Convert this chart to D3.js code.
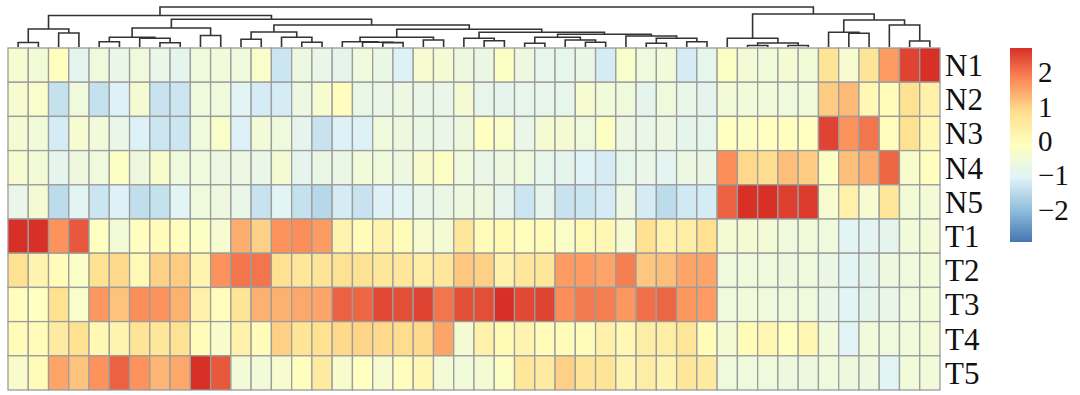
<html>
<head>
<meta charset="utf-8">
<title>Heatmap</title>
<style>
body { margin: 0; background: #fff; }
svg text { font-family: "Liberation Serif", "DejaVu Serif", serif; fill: #111; }
.cell { stroke: #9c9c9c; stroke-width: 1.3; }
.dendro path { fill: none; stroke: #333; stroke-width: 1.6; }
</style>
</head>
<body>
<svg id="plot" width="1080" height="395"></svg>
<script src="https://cdn.jsdelivr.net/npm/d3@7"></script>
<script>
const rowNames = ['N1', 'N2', 'N3', 'N4', 'N5', 'T1', 'T2', 'T3', 'T4', 'T5'];

// values per row, 46 columns, already in dendrogram order
const N1 = [-0.4,-0.5,-0.1,-0.9,-0.6,-0.8,-0.6,-0.8,-0.9,-0.6,-0.55,-0.6,-0.3,-1.3,-0.7,-0.8,
  -0.9,-0.6,-0.75,-1.1,-0.4,-0.45,-0.65,-0.75,-0.2,-0.65,-0.85,-0.85,-0.75,-1.2,
  -0.3,-0.6,-0.55,-1.2,-0.85,-0.2,-0.5,-0.55,-0.45,-0.5,0.7,-0.4,0.7,1.6,2.5,2.85];
const N2 = [-0.4,-0.3,-1.4,-0.6,-1.4,-1.1,-0.45,-1.35,-1.3,-0.6,-0.6,-1.0,-1.2,-1.2,-0.7,-0.4,
  -0.1,-0.75,-0.8,-0.7,-0.8,-0.8,-0.45,-0.85,-0.9,-0.85,-0.85,-0.85,-0.4,-0.55,
  -0.6,-0.9,-0.6,-0.8,-0.9,-0.5,-0.55,-0.55,-0.6,-0.55,1.05,1.25,0.1,0.0,0.8,0.3];
const N3 = [-0.45,-0.55,-1.2,-0.4,-0.55,-0.8,-1.1,-1.3,-1.3,-0.6,-0.3,-1.1,-0.5,-0.6,-0.9,-1.35,
  -1.1,-1.1,-0.6,-0.65,-0.75,-0.8,-0.65,-0.15,-0.3,-0.8,-0.45,-0.45,-0.6,-0.2,
  -0.7,-0.8,-0.7,-0.9,-0.85,-0.15,-0.2,-0.15,-0.1,-0.15,2.5,1.7,2.0,-0.05,0.8,0.1];
const N4 = [-0.4,-0.5,-0.9,-0.65,-0.6,-0.2,-0.65,-0.35,-0.6,-0.6,-0.7,-0.7,-0.8,-0.45,-0.9,-0.75,
  -0.75,-0.55,-0.6,-0.65,-0.35,-0.2,-0.6,-0.8,-0.7,-0.6,-0.85,-0.9,-1.05,-1.2,
  -0.85,-0.8,-0.95,-0.7,-0.75,1.75,0.9,0.85,1.2,1.05,-0.2,1.2,1.4,2.15,-0.35,-0.1];
const N5 = [-0.8,-0.45,-1.5,-1.0,-1.3,-1.1,-1.45,-1.4,-1.0,-0.6,-0.65,-0.8,-1.35,-1.0,-1.4,-1.55,
  -1.2,-1.35,-1.1,-1.0,-0.8,-0.75,-0.65,-0.65,-0.9,-1.3,-0.9,-1.35,-1.3,-1.2,
  -0.7,-1.2,-1.5,-1.25,-1.2,2.2,2.7,2.75,2.55,2.6,-0.4,0.3,-0.4,0.6,-0.5,-0.5];
const T1 = [2.8,2.8,1.7,2.3,-0.15,-0.5,-0.1,0.0,-0.1,-0.2,-0.4,1.4,1.0,1.7,1.75,1.6,
  0.2,0.0,0.2,0.0,-0.4,-0.45,0.6,0.0,0.05,-0.05,0.0,-0.25,0.05,0.1,
  -0.4,0.8,0.3,0.4,0.8,-0.45,-0.45,-0.5,-0.6,-0.55,-0.6,-1.0,-0.95,-0.9,-0.55,-0.5];
const T2 = [0.8,0.2,0.0,-0.25,0.8,0.9,0.05,1.0,1.05,0.2,1.7,2.0,2.0,0.8,0.6,0.7,
  0.75,0.75,0.6,0.6,0.4,0.6,1.1,1.0,0.3,0.6,0.6,1.6,1.6,1.5,
  1.9,1.1,1.2,1.5,1.5,-0.6,-0.6,-0.6,-0.65,-0.6,-0.75,-1.0,-0.9,-0.65,-0.6,-0.55];
const T3 = [-0.1,-0.15,0.8,-0.3,1.65,1.15,1.75,1.7,1.35,0.3,-0.05,0.7,1.35,1.35,1.45,1.5,
  2.2,2.15,2.45,2.4,2.5,2.0,2.4,2.4,2.75,2.45,2.5,1.75,1.95,1.9,
  1.65,2.05,2.15,1.65,1.6,-0.6,-0.55,-0.6,-0.6,-0.6,-0.8,-1.0,-0.9,-0.8,-0.6,-0.55];
const T4 = [0.0,0.0,0.5,0.8,0.1,0.2,0.7,0.6,0.75,0.0,-0.35,0.3,0.0,1.0,0.7,0.8,
  0.9,0.95,0.9,0.85,0.9,1.5,-0.45,0.3,0.05,0.2,0.0,0.0,0.0,0.3,
  0.1,0.4,0.4,0.65,0.0,-0.45,0.0,0.1,-0.1,0.1,-0.55,-1.0,-0.55,-0.6,-0.55,-0.5];
const T5 = [-0.35,0.0,1.5,1.15,1.7,2.2,1.7,1.3,1.45,2.8,2.3,-0.5,-0.5,-0.4,-0.1,0.5,
  -0.35,-0.15,-0.4,-0.1,0.1,-0.5,-0.55,-0.45,-0.2,0.6,0.5,1.0,0.7,0.7,
  0.2,0.4,0.2,0.6,0.5,-0.6,-0.6,-0.6,-0.65,-0.65,-0.6,-0.65,-0.65,-1.0,-0.55,-0.55];
const values = [N1, N2, N3, N4, N5, T1, T2, T3, T4, T5];

// column dendrogram: [height, left, right], leaves are column indices
const colTree = [40,
  [31.5,
    [18, [4.5, 0, 1], [14, 2, 3]],
    [27.7,
      [19, [9.7, [5.3, 4, 5], [8.7, 6, [4.3, 7, 8]]], [11.5, 9, 10]],
      [22,
        [15, [7.7, 11, 12], [9.7, 13, [4.7, 14, 15]]],
        [17.7,
          [9.7, [5.3, 16, [4.8, 17, [4.4, 18, 19]]], [7, 20, 21]],
          [14.7,
            [8.7, 22, [6.3, 23, 24]],
            [12.7,
              [9.7, [3.7, 25, 26], [7, 27, [4.7, 28, 29]]],
              [11, 30, [8.7, [3.7, 31, 32], [5.3, 33, 34]]]
            ]
          ]
        ]
      ]
    ]
  ],
  [33,
    [8.7, 35, [4, [1.5, 36, 37], [1.5, 38, 39]]],
    [27,
      [14.7, 40, [13.7, 41, 42]],
      [22, 43, [6, 44, 45]]
    ]
  ]
];

const legendTicks = [2, 1, 0, -1, -2];
const colorDomain = [-2.95, 2.7];
const palette = ['#4575B4', '#91BFDB', '#E0F3F8', '#FFFFBF', '#FEE090', '#FC8D59', '#D73027'];

const svg = d3.select('#plot');
const nCol = values[0].length;

const x = d3.scaleBand().domain(d3.range(nCol)).range([8, 940]);
const y = d3.scaleBand().domain(rowNames).range([48, 390]);

const stops = palette.map((c, i) => colorDomain[0] + i * (colorDomain[1] - colorDomain[0]) / (palette.length - 1));
const color = d3.scaleLinear().domain(stops).range(palette).interpolate(d3.interpolateRgb).clamp(true);

// cells
const cells = [];
values.forEach((row, r) => row.forEach((v, c) => cells.push({r: rowNames[r], c: c, v: v})));
svg.append('g').selectAll('rect').data(cells).join('rect')
  .attr('class', 'cell')
  .attr('x', d => x(d.c))
  .attr('y', d => y(d.r))
  .attr('width', x.bandwidth())
  .attr('height', y.bandwidth())
  .attr('fill', d => color(d.v));

// row labels
svg.append('g').selectAll('text').data(rowNames).join('text')
  .attr('x', 945)
  .attr('y', d => y(d) + y.bandwidth() / 2)
  .attr('dy', '0.35em')
  .style('font-size', '31px')
  .text(d => d);

// dendrogram
const hScale = d3.scaleLinear().domain([0, 40]).range([47, 7]);
const dg = svg.append('g').attr('class', 'dendro');
function layout(node) {
  if (typeof node === 'number') {
    return {x: x(node) + x.bandwidth() / 2, y: hScale(0)};
  }
  const [h, a, b] = node;
  const l = layout(a), r = layout(b);
  const yn = hScale(h);
  dg.append('path').attr('d', `M${l.x},${l.y}V${yn}H${r.x}V${r.y}`);
  return {x: (l.x + r.x) / 2, y: yn};
}
layout(colTree);

// legend
const defs = svg.append('defs');
const grad = defs.append('linearGradient').attr('id', 'lg')
  .attr('x1', 0).attr('y1', 1).attr('x2', 0).attr('y2', 0);
stops.forEach((s, i) => {
  grad.append('stop').attr('offset', i / (stops.length - 1)).attr('stop-color', palette[i]);
});
const ly = d3.scaleLinear().domain(colorDomain).range([242, 48]);
svg.append('rect')
  .attr('x', 1010).attr('y', ly(colorDomain[1]))
  .attr('width', 22).attr('height', ly(colorDomain[0]) - ly(colorDomain[1]))
  .attr('fill', 'url(#lg)');
svg.append('g').selectAll('text').data(legendTicks).join('text')
  .attr('x', 1038)
  .attr('y', d => ly(d))
  .attr('dy', '0.35em')
  .style('font-size', '29px')
  .text(d => d < 0 ? '\u2212' + Math.abs(d) : d);
</script>
</body>
</html>
